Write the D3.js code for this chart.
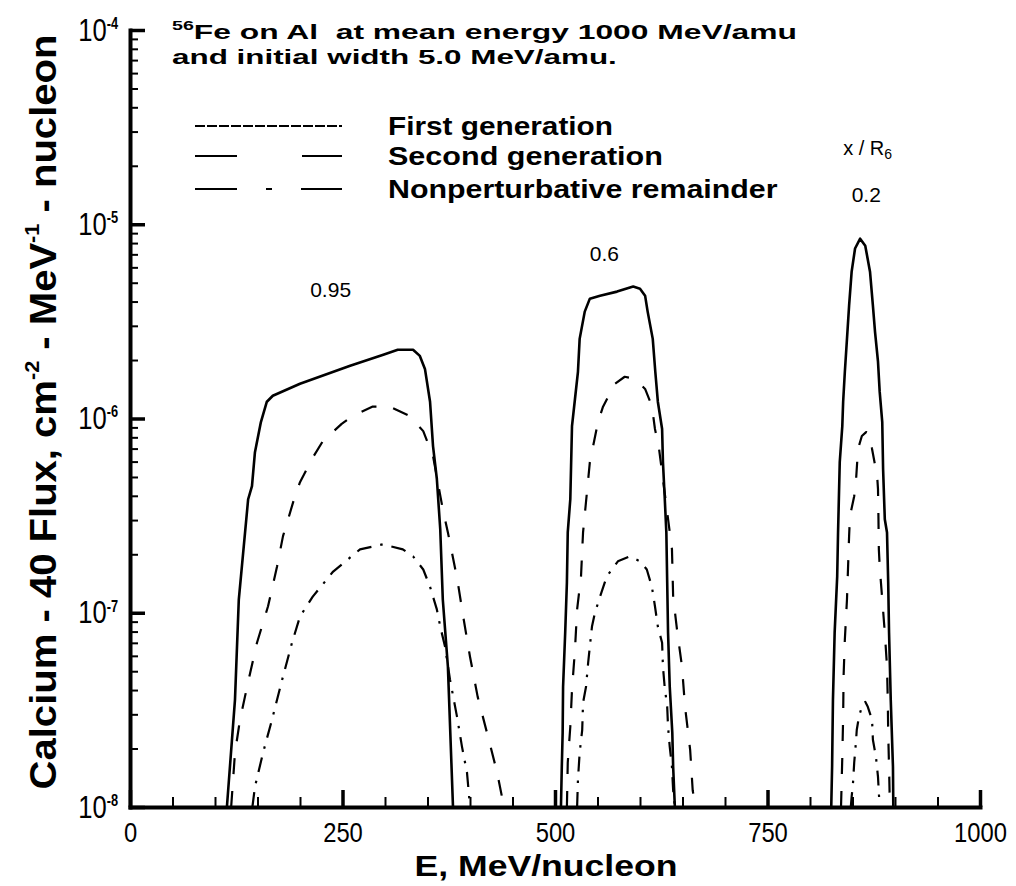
<!DOCTYPE html>
<html><head><meta charset="utf-8">
<script src="https://cdn.jsdelivr.net/npm/d3@7/dist/d3.min.js"></script>
<style>body{margin:0;background:#fff}svg{display:block}</style>
</head><body>
<svg id="chart" width="1016" height="886"></svg>
<script>
// ---- data (E in MeV/nucleon, flux in cm^-2 MeV^-1 nucleon) ----
const seriesNames = ["First generation", "Second generation", "Nonperturbative remainder"];
const titleLines = ["Fe on Al  at mean energy 1000 MeV/amu", "and initial width 5.0 MeV/amu."];
const titleIsotope = "56";
const depthLabels = ["0.95", "0.6", "0.2"];
const depthLabelAt = [[212, 4.2e-6], [541, 6.5e-6], [849, 1.30e-5]];
const depthHeader = "x / R";
const depthHeaderSub = "6";
const depthHeaderAt = [839, 2.27e-5];
const xTicks = [0, 250, 500, 750, 1000];
const yTicks = [1e-8, 1e-7, 1e-6, 1e-5, 1e-4];
const yTickExponents = ["-8", "-7", "-6", "-5", "-4"];

const first095 = [[114,1.0e-8],[123.5,3.56e-8],[128,1.17e-7],[139,3.84e-7],[143.5,4.49e-7],[147,6.71e-7],[154,9.59e-7],[161,1.22e-6],[168,1.31e-6],[200,1.51e-6],[259,1.87e-6],[298,2.13e-6],[315,2.26e-6],[333,2.26e-6],[341,2.10e-6],[347,1.80e-6],[353,1.22e-6],[356.5,7.21e-7],[361,4.88e-7],[365,2.69e-7],[368,1.17e-7],[374,5.28e-8],[380,1.0e-8]];
const second095 = [[119,1.0e-8],[123.5,1.90e-8],[129.4,2.81e-8],[138.8,4.37e-8],[149.4,7.01e-8],[162.4,1.08e-7],[173,1.73e-7],[180,2.48e-7],[186,3.03e-7],[194,3.98e-7],[200,4.70e-7],[214,6.18e-7],[227,7.66e-7],[249,9.38e-7],[262,1.03e-6],[285,1.15e-6],[306,1.15e-6],[329,1.03e-6],[345,8.61e-7],[356.5,6.40e-7],[368,3.41e-7],[374,2.59e-7],[385,1.49e-7],[392,9.57e-8],[400,5.94e-8],[409,3.70e-8],[420,2.41e-8],[432,1.50e-8],[440,1.0e-8]];
const rem095 = [[144,1.0e-8],[147,1.27e-8],[156.5,1.90e-8],[167,2.81e-8],[179,4.52e-8],[190.6,7.01e-8],[200,9.57e-8],[215,1.21e-7],[239,1.63e-7],[270.6,2.12e-7],[297.6,2.25e-7],[321,2.12e-7],[333,1.95e-7],[345,1.67e-7],[353,1.36e-7],[361,1.04e-7],[365,8.49e-8],[370.6,6.70e-8],[376.5,4.52e-8],[384.7,2.92e-8],[390.6,2.04e-8],[396.5,1.50e-8],[400,1.0e-8]];

const first06 = [[507,1.0e-8],[508,1.61e-8],[509,2.41e-8],[509.5,4.16e-8],[512,7.91e-8],[514,1.43e-7],[515,2.59e-7],[518,3.84e-7],[520,9.14e-7],[523.5,1.26e-6],[527,1.74e-6],[529,2.57e-6],[535,3.55e-6],[541,4.14e-6],[553,4.29e-6],[573,4.50e-6],[592,4.78e-6],[600,4.66e-6],[606,4.29e-6],[609,3.55e-6],[615,2.57e-6],[618,1.74e-6],[621,1.22e-6],[626,8.83e-7],[627,5.96e-7],[629,3.98e-7],[631,2.59e-7],[632,1.43e-7],[633,7.91e-8],[635,4.16e-8],[638,2.41e-8],[639,1.61e-8],[641,1.0e-8]];
const second06 = [[514,1.0e-8],[515,1.69e-8],[518,2.59e-8],[520,4.02e-8],[523.5,6.46e-8],[526,1.04e-7],[530.6,1.54e-7],[533,2.59e-7],[541,5.96e-7],[550.6,9.59e-7],[556.5,1.15e-6],[570.6,1.51e-6],[582,1.64e-6],[594,1.60e-6],[606,1.42e-6],[614,1.16e-6],[617.6,8.83e-7],[622,7.21e-7],[632,3.29e-7],[637.6,2.12e-7],[639,1.21e-7],[643.5,8.20e-8],[649.4,5.28e-8],[653,3.28e-8],[659,1.97e-8],[662,1.22e-8],[665,1.0e-8]];
const rem06 = [[526,1.0e-8],[527,1.38e-8],[529,1.90e-8],[532,2.49e-8],[533,3.44e-8],[536.5,4.16e-8],[539,5.53e-8],[541,6.70e-8],[543.5,8.49e-8],[547,1.00e-7],[553,1.21e-7],[561,1.54e-7],[574,1.84e-7],[588,1.95e-7],[600,1.84e-7],[608,1.67e-7],[614,1.36e-7],[617.6,1.08e-7],[621,8.49e-8],[626,7.01e-8],[627,5.28e-8],[629,4.16e-8],[632,3.28e-8],[633,2.59e-8],[635,2.04e-8],[637.6,1.61e-8],[639,1.22e-8],[641,1.0e-8]];

const first02 = [[825,1.0e-8],[826,1.61e-8],[827,3.56e-8],[829,7.91e-8],[832,1.54e-7],[833,2.59e-7],[835,5.96e-7],[838,9.14e-7],[839,1.22e-6],[841,1.74e-6],[843.5,2.57e-6],[846,3.81e-6],[849,5.70e-6],[853,7.50e-6],[859,8.43e-6],[865,7.76e-6],[870.6,5.70e-6],[874,3.81e-6],[876.5,2.79e-6],[880,1.96e-6],[882,1.37e-6],[885,9.59e-7],[886,5.48e-7],[888,3.03e-7],[890.6,2.59e-7],[892,1.43e-7],[893,7.91e-8],[895,3.56e-8],[897.6,1.61e-8],[898,1.0e-8]];
const second02 = [[836.5,1.0e-8],[838,1.81e-8],[839,2.92e-8],[839.5,4.69e-8],[841,7.28e-8],[843.5,1.17e-7],[846,2.48e-7],[847,3.14e-7],[852,3.98e-7],[854,4.70e-7],[856.5,6.97e-7],[861,8.13e-7],[866,8.51e-7],[870.6,8.32e-7],[873,6.97e-7],[879,5.05e-7],[880,4.33e-7],[880.5,3.14e-7],[881,2.12e-7],[882,1.73e-7],[885,1.17e-7],[888,7.91e-8],[890.6,5.28e-8],[891.5,3.56e-8],[892,2.41e-8],[893,1.61e-8],[894,1.0e-8]];
const rem02 = [[848,1.0e-8],[849,1.13e-8],[850.6,1.33e-8],[852,1.69e-8],[854,2.14e-8],[855,2.49e-8],[857.6,2.92e-8],[861,3.28e-8],[865,3.48e-8],[868,3.28e-8],[873,2.81e-8],[874,2.22e-8],[877.6,1.81e-8],[880,1.43e-8],[881,1.18e-8],[882,1.0e-8]];

const firstGeneration = [first095, first06, first02];
const secondGeneration = [second095, second06, second02];
const remainder = [rem095, rem06, rem02];

// ---- layout ----
const FONT = "'Liberation Sans', Arial, Helvetica, sans-serif";
const svg = d3.select("#chart");
const x = d3.scaleLinear().domain([0, 1000]).range([130, 980]);
const y = d3.scaleLog().domain([1e-8, 1e-4]).range([807, 30]);

// fit helper: stretch a text horizontally to a target width
function fitText(g, text, targetW, tx, ty, rot) {
  const bb = text.node().getBBox();
  const k = targetW / bb.width;
  const anchor = text.attr("text-anchor");
  let shift = 0;
  if (anchor !== "middle") shift = -bb.x * k;
  g.attr("transform", `translate(${tx},${ty})` + (rot ? ` rotate(${rot})` : "") + ` translate(${shift},0) scale(${k},1)`);
}

// ---- curves ----
const line = d3.line().x(d => x(d[0])).y(d => y(d[1]));
const plot = svg.append("g");
const styles = [
  {data: firstGeneration, width: 2.6, dash: null},
  {data: secondGeneration, width: 2.2, dash: "16,17"},
  {data: remainder, width: 2.2, dash: "15,9,2.5,9"}
];
styles.forEach(s => {
  s.data.forEach(arr => {
    plot.append("path").datum(arr).attr("d", line)
      .attr("fill", "none").attr("stroke", "#000")
      .attr("stroke-width", s.width)
      .attr("stroke-dasharray", s.dash)
      .attr("stroke-linejoin", "round");
  });
});

// ---- axes ----
const xMinor = d3.range(50, 1000, 50).filter(v => v % 250 !== 0);
svg.append("g").attr("transform", `translate(0,${y(1e-8)})`)
  .call(d3.axisBottom(x).tickValues(xMinor).tickSize(-10).tickFormat(""))
  .call(s => s.select(".domain").remove())
  .selectAll("line").attr("stroke", "#000").attr("stroke-width", 2);

const yMinor = [];
[-8, -7, -6, -5].forEach(e => { for (let m = 2; m <= 9; m++) yMinor.push(m * Math.pow(10, e)); });
svg.append("g").attr("transform", `translate(${x(0)},0)`)
  .call(d3.axisLeft(y).tickValues(yMinor).tickSize(-8).tickFormat(""))
  .call(s => s.select(".domain").remove())
  .selectAll("line").attr("stroke", "#000").attr("stroke-width", 2);

const xAxisG = svg.append("g").attr("transform", `translate(0,${y(1e-8)})`)
  .call(d3.axisBottom(x).tickValues(xTicks).tickSize(-17).tickSizeOuter(0).tickPadding(15).tickFormat(d3.format("d")));
xAxisG.select(".domain").attr("stroke", "#000").attr("stroke-width", 4).attr("stroke-linecap", "square");
xAxisG.selectAll(".tick line").attr("stroke", "#000").attr("stroke-width", 3.5);
xAxisG.selectAll(".tick text").attr("font-family", FONT).attr("font-size", 28).attr("fill", "#000")
  .attr("transform", "scale(0.85,1)");

const yAxisG = svg.append("g").attr("transform", `translate(${x(0)},0)`)
  .call(d3.axisLeft(y).tickValues(yTicks).tickSize(-15).tickSizeOuter(0).tickPadding(12).tickFormat(""));
yAxisG.select(".domain").attr("stroke", "#000").attr("stroke-width", 4).attr("stroke-linecap", "square");
yAxisG.selectAll(".tick line").attr("stroke", "#000").attr("stroke-width", 3.5);
yAxisG.selectAll(".tick text").each(function(d, i) {
  const t = d3.select(this).attr("font-family", FONT).attr("fill", "#000")
    .attr("font-size", 32).attr("transform", "scale(0.8,1)").attr("x", -12 / 0.8);
  t.text(null);
  t.append("tspan").text("10");
  t.append("tspan").attr("font-size", 16).attr("font-weight", "bold").attr("dy", -12).text(yTickExponents[i]);
});

// ---- axis titles ----
const xt = svg.append("g");
const xtText = xt.append("text").attr("text-anchor", "middle").attr("font-family", FONT)
  .attr("font-weight", "bold").attr("font-size", 29).attr("fill", "#000").text("E, MeV/nucleon");
fitText(xt, xtText, 263, 546, 876);

const yt = svg.append("g");
const ytText = yt.append("text").attr("text-anchor", "middle").attr("font-family", FONT)
  .attr("font-weight", "bold").attr("font-size", 37).attr("fill", "#000");
ytText.append("tspan").text("Calcium - 40 Flux, cm");
ytText.append("tspan").attr("font-size", 20).attr("dy", -17).text("-2");
ytText.append("tspan").attr("dy", 17).text(" - MeV");
ytText.append("tspan").attr("font-size", 20).attr("dy", -17).text("-1");
ytText.append("tspan").attr("dy", 17).text(" - nucleon");
fitText(yt, ytText, 755, 56, 412, -90);

// ---- title (two lines) ----
const t1 = svg.append("g");
const t1Text = t1.append("text").attr("font-family", FONT).attr("font-weight", "bold")
  .attr("font-size", 21).attr("fill", "#000").attr("xml:space", "preserve");
t1Text.append("tspan").attr("font-size", 13).attr("dy", -9).text(titleIsotope);
t1Text.append("tspan").attr("dy", 9).text(titleLines[0]);
fitText(t1, t1Text, 625, 172, 39);

const t2 = svg.append("g");
const t2Text = t2.append("text").attr("font-family", FONT).attr("font-weight", "bold")
  .attr("font-size", 21).attr("fill", "#000").text(titleLines[1]);
fitText(t2, t2Text, 445, 172, 63.5);

// ---- legend ----
const legendY = [126, 156, 189];
const legendDash = ["10,2", "42,65,42", "42,29,6,29,42"];
const legendW = [225, 275, 390];
seriesNames.forEach((name, i) => {
  svg.append("line").attr("x1", 195).attr("x2", 342).attr("y1", legendY[i]).attr("y2", legendY[i])
    .attr("stroke", "#000").attr("stroke-width", 2).attr("stroke-dasharray", legendDash[i]);
  const g = svg.append("g");
  const tx = g.append("text").attr("font-family", FONT).attr("font-weight", "bold")
    .attr("font-size", 25).attr("fill", "#000").text(name);
  fitText(g, tx, legendW[i], 388, legendY[i] + 9);
});

// ---- depth annotations ----
depthLabels.forEach((lab, i) => {
  svg.append("text").attr("x", x(depthLabelAt[i][0])).attr("y", y(depthLabelAt[i][1]))
    .attr("font-family", FONT).attr("font-size", 21).attr("fill", "#000").text(lab);
});
const hdr = svg.append("text").attr("x", x(depthHeaderAt[0])).attr("y", y(depthHeaderAt[1]))
  .attr("font-family", FONT).attr("font-size", 20).attr("fill", "#000");
hdr.append("tspan").text(depthHeader);
hdr.append("tspan").attr("font-size", 14).attr("dy", 4).text(depthHeaderSub);
</script>
</body></html>
